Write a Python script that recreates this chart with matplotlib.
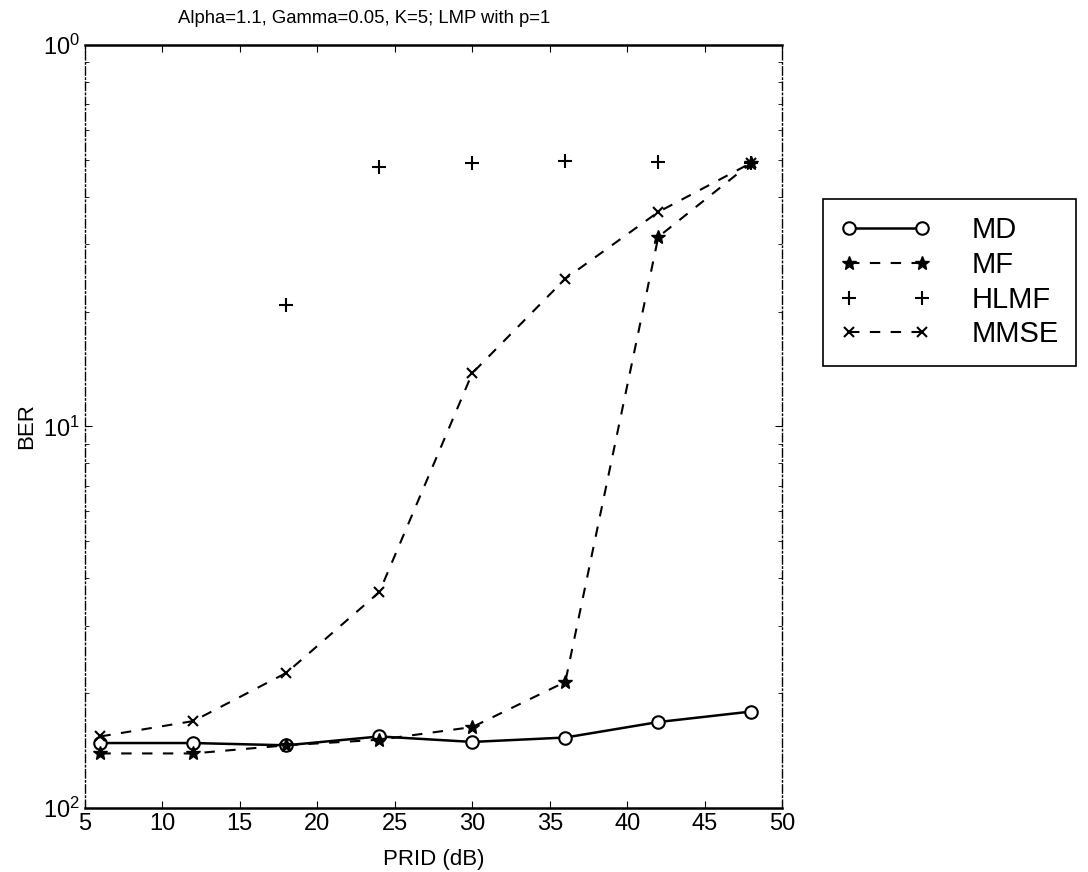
import numpy as np
import matplotlib
matplotlib.use("Agg")
import matplotlib.pyplot as plt

plt.rcParams['font.family'] = ['Liberation Sans', 'DejaVu Sans']
plt.rcParams['mathtext.fontset'] = 'custom'
plt.rcParams['mathtext.rm'] = 'Liberation Sans'

# Data
prid = [6, 12, 18, 24, 30, 36, 42, 48]
ber_md = [0.0148, 0.0148, 0.0146, 0.0154, 0.0149, 0.0153, 0.0168, 0.0179]
ber_mf = [0.0139, 0.0139, 0.0146, 0.0151, 0.0163, 0.0214, 0.314, 0.491]
ber_hlmf = [np.nan, np.nan, 0.208, 0.479, 0.491, 0.496, 0.494, 0.491]
ber_mmse = [0.0154, 0.0169, 0.0226, 0.0368, 0.138, 0.244, 0.365, 0.491]

xticks = [5, 10, 15, 20, 25, 30, 35, 40, 45, 50]
yticks = [1e-2, 1e-1, 1e0]
ytick_labels = [r'$\mathregular{10^{2}}$', r'$\mathregular{10^{1}}$', r'$\mathregular{10^{0}}$']

fig = plt.figure(figsize=(10.88, 8.72), dpi=100)
ax = fig.add_axes([0.078, 0.0734, 0.641, 0.875])

ax.plot(prid, ber_md, color='black', linestyle='-', linewidth=1.8,
        marker='o', markersize=9, markerfacecolor='white', markeredgewidth=1.5, label='MD')
ax.plot(prid, ber_mf, color='black', linestyle=(0, (5, 5)), linewidth=1.5,
        marker='*', markersize=10, label='MF')
ax.plot(prid, ber_hlmf, color='black', linestyle='none',
        marker='+', markersize=10, markeredgewidth=1.5, label='HLMF')
ax.plot(prid, ber_mmse, color='black', linestyle=(0, (5, 5)), linewidth=1.5,
        marker='x', markersize=7, markeredgewidth=1.5, label='MMSE')

ax.set_yscale('log')
ax.set_xlim(5, 50)
ax.set_ylim(1e-2, 1e0)
ax.set_xticks(xticks)
ax.set_xticklabels([str(v) for v in xticks])
ax.set_yticks(yticks)
ax.set_yticklabels(ytick_labels)
ax.tick_params(which='both', direction='in', top=True, right=True, labelsize=17)
ax.tick_params(which='major', length=5)
ax.tick_params(which='minor', length=3)
ax.minorticks_on()
ax.xaxis.set_minor_locator(matplotlib.ticker.NullLocator())

for side in ['top', 'bottom']:
    ax.spines[side].set_linewidth(1.8)
for side in ['left', 'right']:
    ax.spines[side].set_linewidth(1.0)
    ax.spines[side].set_linestyle((0, (6, 2, 1, 2)))

ax.set_title('Alpha=1.1, Gamma=0.05, K=5; LMP with p=1', fontsize=13.3, x=0.40, pad=16)
ax.set_xlabel('PRID (dB)', fontsize=16, labelpad=10)
ax.set_ylabel('BER', fontsize=16, labelpad=4)

leg = fig.legend(loc='upper left', bbox_to_anchor=(0.756, 0.772), fontsize=21,
                 frameon=True, fancybox=False, framealpha=1, edgecolor='black',
                 numpoints=2, handlelength=3.1, handletextpad=1.4, labelspacing=0.23,
                 borderpad=0.6, borderaxespad=0)
leg.get_frame().set_linewidth(1.2)

fig.savefig('out.png', dpi=100)
